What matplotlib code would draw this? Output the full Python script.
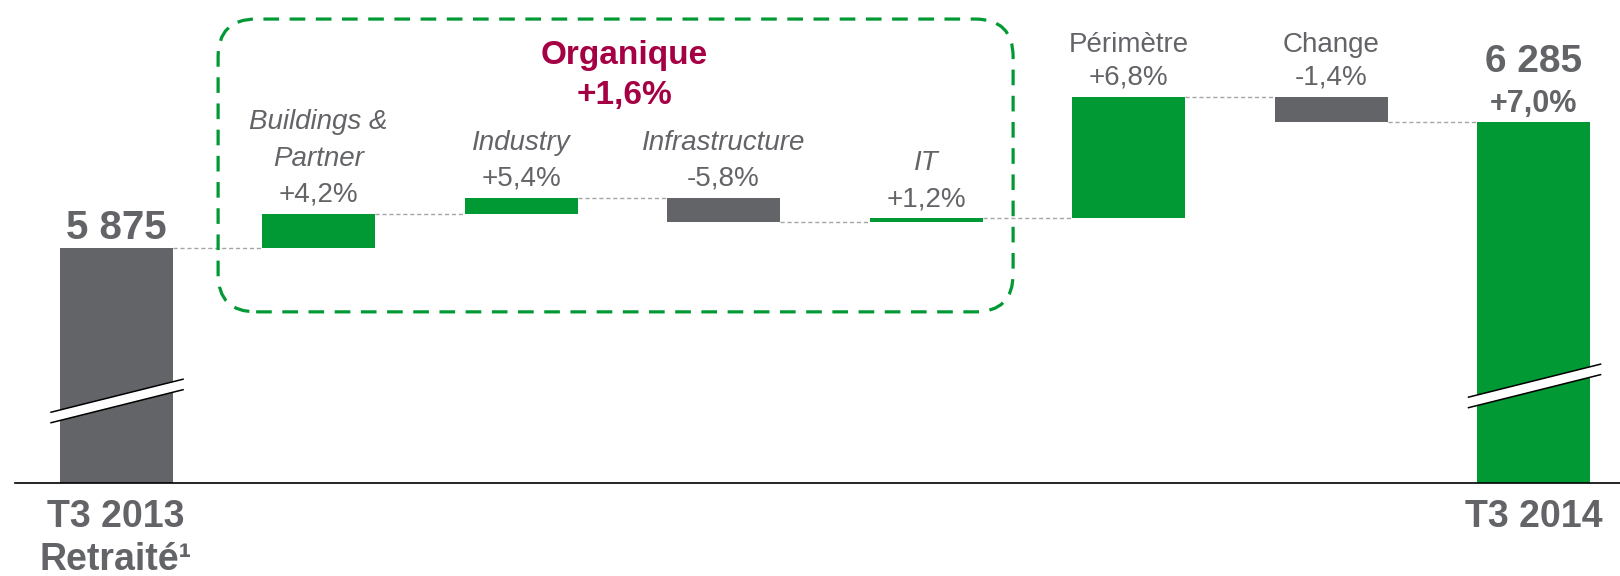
import numpy as np
import matplotlib.pyplot as plt
from matplotlib.patches import FancyBboxPatch, Polygon
from matplotlib.transforms import IdentityTransform

plt.rcParams['font.family'] = ['Liberation Sans', 'DejaVu Sans']

# data (M EUR)
start_label = ["T3 2013", "Retraité¹"]
start_value = 5875
end_label = ["T3 2014"]
end_value = 6285
end_growth = "+7,0%"

steps = ["Buildings &\nPartner", "Industry", "Infrastructure", "IT", "Périmètre", "Change"]
step_values = [111, 52, -78, 11, 396, -82]
step_pct = ["+4,2%", "+5,4%", "-5,8%", "+1,2%", "+6,8%", "-1,4%"]
step_italic = [True, True, True, True, False, False]

organic_title = "Organique"
organic_pct = "+1,6%"

GREEN = "#009933"
GRAY = "#636468"
TXT = "#636468"
RED = "#A50044"

ylo, yhi = 5110, 6682
w = 0.558

fig = plt.figure(figsize=(16.2, 5.76), dpi=100)
ax = fig.add_axes([15 / 1620, 93 / 576, 1 - 15 / 1620, 483 / 576])
ax.set_xlim(-0.499, 7.427)
ax.set_ylim(ylo, yhi)
ax.axis('off')
ax.axhline(ylo, color='black', lw=1.2, clip_on=False)

totals = start_value + np.cumsum([0] + step_values)
n = len(steps) + 2

# bars
ax.bar(0, start_value - ylo, bottom=ylo, width=w, color=GRAY)
for i, v in enumerate(step_values):
    ax.bar(i + 1, v, bottom=totals[i], width=w, color=GREEN if v > 0 else GRAY)
ax.bar(n - 1, end_value - ylo, bottom=ylo, width=w, color=GREEN)

# connectors
for i in range(n - 1):
    ax.plot([i + w / 2, i + 1 - w / 2], [totals[i], totals[i]],
            color='#A6A6A6', lw=1, ls=(0, (3, 2)))

# step labels
for i, (name, pct, it) in enumerate(zip(steps, step_pct, step_italic)):
    top = max(totals[i], totals[i + 1])
    ax.annotate(pct, (i + 1, top), xytext=(0, 13.6), textcoords='offset points',
                ha='center', va='center', fontsize=20, color=TXT)
    gap = 26.2 if it else 23.8
    for k, line in enumerate(name.split("\n")[::-1]):
        ax.annotate(line, (i + 1, top), xytext=(0, 13.6 + gap * (k + 1)),
                    textcoords='offset points', ha='center', va='center',
                    fontsize=20, color=TXT, style='italic' if it else 'normal')

# totals
ax.annotate(f"{start_value:,}".replace(",", " "), (0, start_value), xytext=(0, 14.5),
            textcoords='offset points', ha='center', va='center',
            fontsize=29, fontweight='bold', color=TXT)
ax.annotate(f"{end_value:,}".replace(",", " "), (n - 1, end_value), xytext=(0, 43.5),
            textcoords='offset points', ha='center', va='center',
            fontsize=28, fontweight='bold', color=TXT)
ax.annotate(end_growth, (n - 1, end_value), xytext=(0, 13.2),
            textcoords='offset points', ha='center', va='center',
            fontsize=22, fontweight='bold', color=TXT)

# category labels under axis
for xi, lines in [(0, start_label), (n - 1, end_label)]:
    for k, line in enumerate(lines):
        ax.annotate(line, (xi, ylo), xytext=(0, -24.5 - 31 * k),
                    textcoords='offset points', ha='center', va='center',
                    fontsize=27, fontweight='bold', color=TXT, annotation_clip=False)

# organic box
bx0, bx1, by0, by1 = 0.504, 4.43, 5667, 6620
(p0x, p0y), (p1x, p1y) = ax.transData.transform([(bx0, by0), (bx1, by1)])
box = FancyBboxPatch((p0x, p0y), p1x - p0x, p1y - p0y,
                     boxstyle="round,pad=0,rounding_size=38",
                     transform=IdentityTransform(), fill=False,
                     edgecolor=GREEN, lw=2.3, ls=(0, (4.9, 3.3)))
fig.patches.append(box)
box.set_figure(fig)
ox = 2.51
ax.annotate(organic_title, (ox, by1), xytext=(0, -26.5),
            textcoords='offset points', ha='center', va='center',
            fontsize=24, fontweight='bold', color=RED)
ax.annotate(organic_pct, (ox, by1), xytext=(0, -55),
            textcoords='offset points', ha='center', va='center',
            fontsize=24, fontweight='bold', color=RED)

# axis break marks
for xi, yb in [(0, 5377), (n - 1, 5426)]:
    cx, cy = ax.transData.transform((xi, yb))
    hw = 66
    rise = 16.5
    g = 5.25
    left = cx - hw + 1
    right = cx + hw + 1
    pts = [(left, cy - rise + g), (right, cy + rise + g),
           (right, cy + rise - g), (left, cy - rise - g)]
    fig.patches.append(Polygon(pts, closed=True, facecolor='white', edgecolor='none',
                               transform=IdentityTransform(), figure=fig))
    for s in (g, -g):
        fig.lines.append(plt.Line2D([left, right], [cy - rise + s, cy + rise + s],
                                    color='black', lw=1.1,
                                    transform=IdentityTransform(), figure=fig))

fig.savefig("out.png", dpi=100)
